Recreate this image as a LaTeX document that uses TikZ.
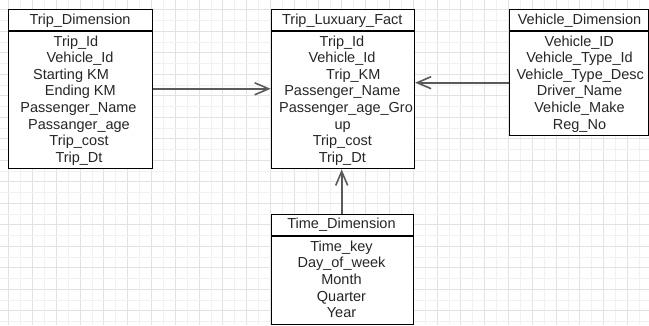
\documentclass[tikz,border=0pt]{standalone}
\usepackage{fontspec}
\setmainfont{Liberation Sans}
\usetikzlibrary{arrows.meta}
\definecolor{gridmaj}{HTML}{E2E2E2}
\definecolor{gridmin}{HTML}{F1F1F1}
\definecolor{txt}{HTML}{262626}
\definecolor{conncol}{HTML}{5A5A5A}
\tikzset{
  box/.style={draw=black, line width=1.1pt, fill=white, rectangle, inner sep=0pt, anchor=north west},
  lbl/.style={anchor=base, inner sep=0pt, text=txt, font=\fontsize{14.5}{16}\selectfont},
  conn/.style={draw=conncol, line width=1.8pt, -{Straight Barb[length=14pt,width=12pt,line width=1.6pt]}},
  sep/.style={draw=black, line width=1.1pt}
}
\begin{document}
\begin{tikzpicture}[x=1pt,y=-1pt]
\useasboundingbox (0,0) rectangle (649,325);
\fill[white] (0,0) rectangle (649,325);
% grid
\foreach \k in {0,...,27} {
  \draw[gridmin, line width=0.6pt] ({8.5+23.8*\k+11.9},0) -- ({8.5+23.8*\k+11.9},325);
  \draw[gridmaj, line width=0.8pt] ({8.5+23.8*\k},0) -- ({8.5+23.8*\k},325);
}
\foreach \k in {0,...,15} {
  \draw[gridmin, line width=0.6pt] (0,{9.8+21.5*\k-10.75}) -- (649,{9.8+21.5*\k-10.75});
  \draw[gridmaj, line width=0.8pt] (0,{9.8+21.5*\k}) -- (649,{9.8+21.5*\k});
}

% boxes
\node[box, minimum width=143.4pt, minimum height=158.4pt] (td) at (8.3,9.3) {};
\node[box, minimum width=143.3pt, minimum height=159pt] (fact) at (270.7,9.3) {};
\node[box, minimum width=139pt, minimum height=125.7pt] (vd) at (509,9.3) {};
\node[box, minimum width=142.6pt, minimum height=109.7pt] (tm) at (270.7,214.3) {};

% header separators
\draw[sep] (td.west |- 0,31) -- (td.east |- 0,31);
\draw[sep] (fact.west |- 0,31) -- (fact.east |- 0,31);
\draw[sep] (vd.west |- 0,31) -- (vd.east |- 0,31);
\draw[sep] (tm.west |- 0,236) -- (tm.east |- 0,236);

% Trip_Dimension
\node[lbl] (tdh) at (80,24.5) {Trip\_Dimension};
\node[lbl] (td1) at (76,46) {Trip\_Id};
\node[lbl] (td2) at (80,62.6) {Vehicle\_Id};
\node[lbl] (td3) at (71,79.2) {Starting KM};
\node[lbl] (td4) at (80.3,95.8) {Ending KM};
\node[lbl] (td5) at (78.5,112.4) {Passenger\_Name};
\node[lbl] (td6) at (79,129) {Passanger\_age};
\node[lbl] (td7) at (79,145.6) {Trip\_cost};
\node[lbl] (td8) at (79,162.2) {Trip\_Dt};

% Trip_Luxuary_Fact
\node[lbl] (fh) at (342.3,24.5) {Trip\_Luxuary\_Fact};
\node[lbl] (f1) at (342,46) {Trip\_Id};
\node[lbl] (f2) at (342,62.6) {Vehicle\_Id};
\node[lbl] (f3) at (353.3,79.2) {Trip\_KM};
\node[lbl] (f4) at (342.3,95.8) {Passenger\_Name};
\node[lbl] (f5) at (346,112.4) {Passenger\_age\_Gro};
\node[lbl] (f6) at (342.7,129) {up};
\node[lbl] (f7) at (342.3,145.6) {Trip\_cost};
\node[lbl] (f8) at (342.3,162.2) {Trip\_Dt};

% Vehicle_Dimension
\node[lbl] (vh) at (579.5,24.5) {Vehicle\_Dimension};
\node[lbl] (v1) at (579.3,46) {Vehicle\_ID};
\node[lbl] (v2) at (579.5,62.6) {Vehicle\_Type\_Id};
\node[lbl] (v3) at (580.3,79.2) {Vehicle\_Type\_Desc};
\node[lbl] (v4) at (579.5,95.8) {Driver\_Name};
\node[lbl] (v5) at (579.5,112.4) {Vehicle\_Make};
\node[lbl] (v6) at (579.5,129) {Reg\_No};

% Time_Dimension
\node[lbl] (th) at (341.5,228.5) {Time\_Dimension};
\node[lbl] (t1) at (341.5,251.2) {Time\_key};
\node[lbl] (t2) at (341.5,267.8) {Day\_of\_week};
\node[lbl] (t3) at (341.5,284.4) {Month};
\node[lbl] (t4) at (341.5,301) {Quarter};
\node[lbl] (t5) at (341.5,317.6) {Year};

% connectors
\draw[conn] (td.east |- 0,88.8) -- (fact.west |- 0,88.8);
\draw[conn] (vd.west |- 0,82.7) -- (fact.east |- 0,82.7);
\draw[conn] (tm.north -| 341.7,0) -- (fact.south -| 341.7,0);
\end{tikzpicture}
\end{document}
